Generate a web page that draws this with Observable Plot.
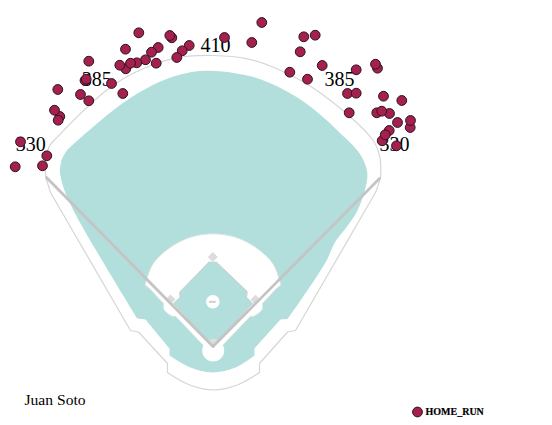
<!DOCTYPE html>
<html>
<head>
<meta charset="utf-8">
<style>html,body{margin:0;padding:0;background:#fff}svg{display:block}</style>
<script src="https://cdn.jsdelivr.net/npm/d3@7"></script>
<script src="https://cdn.jsdelivr.net/npm/@observablehq/plot@0.6"></script>
</head>
<body>
<script>
const homeRuns = [[138.3,32.3],[171.3,37.3],[169.3,35],[125,48.7],[157.7,47],[151,51.7],[188.7,45],[181.7,50.3],[176.3,57],[155.7,62.7],[145,59.3],[136.3,62.3],[125.3,68.3],[119.3,64.7],[130,62.7],[88.3,60.7],[224,37],[251.3,42],[261.3,22],[84.5,80],[85.7,78.7],[111,83],[57.3,89],[80,94],[88.3,100.3],[122.3,93],[59.3,116],[54,109.7],[57.7,119.7],[20,141.3],[46.3,155.3],[42,165.3],[14.7,166.3],
[314.7,34.7],[303.3,36.3],[299.7,51.3],[321.7,65],[289.3,71.7],[307,78.7],[355.7,69.3],[377,67.7],[375,63.7],[347,93],[355.7,92.7],[383,95.7],[401.3,100],[348.7,112.3],[376.3,112.3],[389,113],[381.3,110.7],[397,122],[409.7,127],[410,120],[388.7,130],[381.7,140.3],[384.7,134.3],[396,145.3]];

const wall = [[45.3,176.7],[45.3,176.7],[45,165],[48.3,146.7],[56.7,136.7],[110,86.7],[143,68],[180,56.7],[213,55],[246.7,58.3],[276,68],[319,91.7],[372.7,140],[379.3,156.7],[380.3,171.7],[380,177],[375,192],[375,192],[295,330],[295,330],[287,331.5],[287,331.5],[259,363],[259,363],[259,372],[259,372],[238,384],[213,389.5],[188,384],[167,372],[167,372],[167,363],[167,363],[138,331.5],[138,331.5],[130,330],[130,330],[50,192],[50,192],[45.3,176.7]];

const grass = [[59.3,170],[61,160],[66,150.5],[72,144.5],[116.7,106.7],[145,88.5],[166.7,78.3],[190,71.7],[210,70.3],[233,72.5],[256,77.5],[276,85.5],[296,96.5],[316,111],[338,131],[359.3,153.3],[366.7,171.7],[364.3,190],[356,212],[345,228],[335,241],[325,262],[300,300],[287,318.5],[287,318.5],[280,319],[280,319],[254,348],[254,348],[254,355],[254,355],[235,367],[212,372],[190,367],[169,355],[169,355],[169,348],[169,348],[145,319],[145,319],[136.7,318],[136.7,318],[73,210],[61.7,183],[59.3,170]];

const infield = [[144.5,284.5],[144.5,284.5],[152.5,263.3],[170,246.7],[190,236.7],[212.3,233.3],[235,236.7],[255,246.7],[272.5,263.3],[280.5,284.5],[280.5,284.5],[276,288],[276,288],[262,303],[262,303],[261.7,309],[253.3,315.7],[250,315.7],[250,315.7],[222,345],[222,345],[203,345],[203,345],[175,315.7],[175,315.7],[171.7,315.7],[163.3,309],[163,303],[163,303],[149,288],[149,288],[144.5,284.5]];

const diamond = [[208.3,261.7],[216,261.7],[246.7,291],[246,296.7],[252,303],[217,340],[208,340],[173,303],[179.5,297],[179.3,291.5],[208.3,261.7]];

const homePlate = [[207.5,339],[217.5,339],[212.5,346],[207.5,339]];
const foulLeft = [[46,177],[212.5,346]];
const foulRight = [[379,178],[212.5,346]];
const bases = [[212.3,256.5],[170,299],[255,299.3]];
const homeCircle = [[212.7,350]];
const mound = [[212.3,301.3]];
const rubber = [[209,215.7,301.3]];

const distLabels = ["330","385","410","385","330"];
const distX = [30.3,96.3,215,339,394];
const distY = [143.6,78.6,44.6,78.6,143.6];

const playerName = ["Juan Soto"];
const nameX = [24];
const nameY = [399.5];
const legendDot = [[417,411.5]];
const legendLabel = ["HOME_RUN"];
const legendX = [425];
const legendY = [411.5];

const X = d => d[0], Y = d => d[1];
const TEAL = "#b2dfdb", WALL = "#d6d6d6", LINE = "#c4c4c4", BASE = "#dcdcdc";
const HR = "#a6204f", HREDGE = "#2b1420";

const plot = Plot.plot({
  width: 552, height: 425,
  marginTop: 0, marginRight: 0, marginBottom: 0, marginLeft: 0,
  x: {domain: [0, 552], range: [0, 552], axis: null},
  y: {domain: [0, 425], range: [0, 425], axis: null},
  style: {fontFamily: "'Liberation Serif', serif", background: "#fff", color: "#000"},
  marks: [
    Plot.line(wall, {x: X, y: Y, stroke: WALL, strokeWidth: 1.2, curve: "catmull-rom"}),
    Plot.line(grass, {x: X, y: Y, fill: TEAL, stroke: "none", curve: "catmull-rom"}),
    Plot.line(infield, {x: X, y: Y, fill: "#fff", stroke: "#d8e4e3", strokeWidth: 1, curve: "catmull-rom"}),
    Plot.line(diamond, {x: X, y: Y, fill: TEAL, stroke: "#c6cfce", strokeWidth: 1, curve: "linear"}),
    Plot.dot(homeCircle, {x: X, y: Y, r: 11, fill: "#fff", stroke: "none"}),
    Plot.line(homePlate, {x: X, y: Y, fill: BASE, stroke: "none"}),
    Plot.dot(bases, {x: X, y: Y, r: 4.5, symbol: "diamond2", fill: BASE, stroke: "none"}),
    Plot.dot(mound, {x: X, y: Y, r: 6.8, fill: "#fff", stroke: "none"}),
    Plot.ruleY(rubber, {y: d => d[2], x1: d => d[0], x2: d => d[1], stroke: "#cfcfcf", strokeWidth: 2}),
    Plot.line(foulLeft, {x: X, y: Y, stroke: LINE, strokeWidth: 2.8}),
    Plot.line(foulRight, {x: X, y: Y, stroke: LINE, strokeWidth: 2.8}),
    Plot.text(distLabels, {x: (d, i) => distX[i], y: (d, i) => distY[i], text: d => d, fontSize: 20, fill: "#000", textAnchor: "middle"}),
    Plot.dot(homeRuns, {x: X, y: Y, r: 4.9, fill: HR, stroke: HREDGE, strokeWidth: 1}),
    Plot.text(playerName, {x: (d, i) => nameX[i], y: (d, i) => nameY[i], text: d => d, fontSize: 15.6, fill: "#000", textAnchor: "start"}),
    Plot.dot(legendDot, {x: X, y: Y, r: 4.9, fill: HR, stroke: HREDGE, strokeWidth: 1}),
    Plot.text(legendLabel, {x: (d, i) => legendX[i], y: (d, i) => legendY[i], text: d => d, fontSize: 10, fontWeight: "bold", fill: "#000", stroke: "#000", strokeWidth: 0.2, textAnchor: "start"})
  ]
});
document.body.appendChild(plot);
</script>
</body>
</html>
